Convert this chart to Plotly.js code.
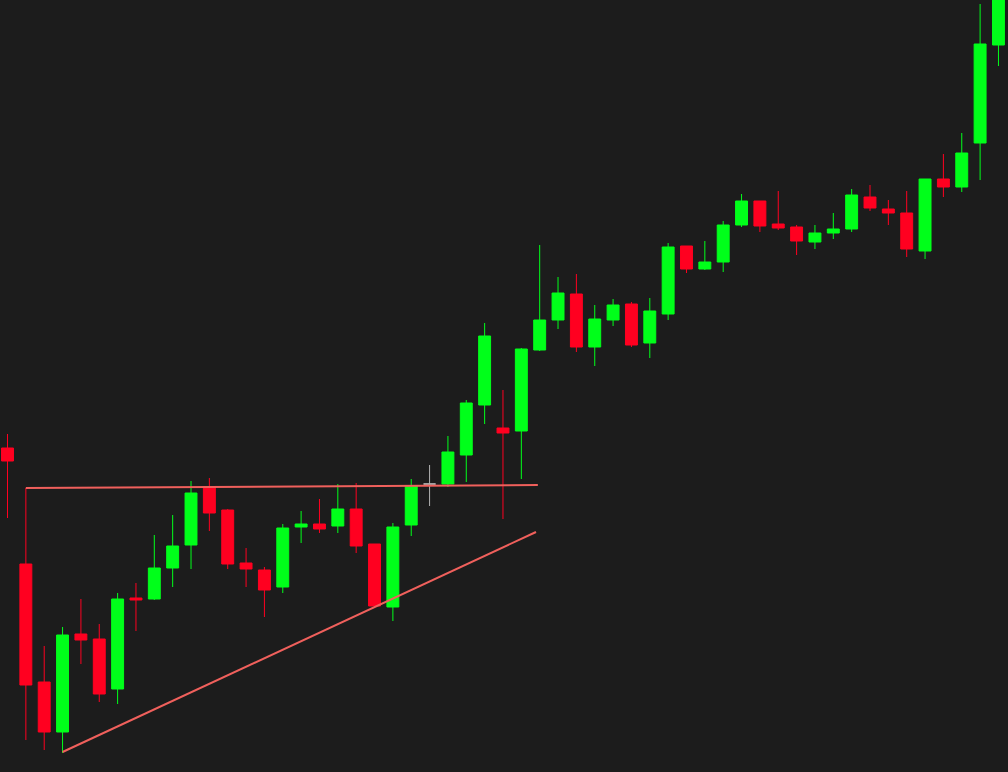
<!DOCTYPE html>
<html>
<head>
<meta charset="utf-8">
<script src="https://cdn.plot.ly/plotly-3.0.1.min.js"></script>
<style>
  html, body { margin: 0; padding: 0; background: #1c1c1c; }
  #chart { width: 1008px; height: 772px; }
</style>
</head>
<body>
<div id="chart"></div>
<script>
// Bar index (one per session)
const idx = [];
for (let i = 0; i < 55; i++) idx.push(i);

// OHLC values (arbitrary price units)
const open  = [324,208,90,40,138,133,83,174,173,204,227,285,262,209,202,185,245,248,246,263,228,165,247,288,288,317,367,344,341,422,452,478,425,452,468,429,458,526,503,510,547,571,548,545,530,539,543,575,563,559,521,593,585,629,727];
const high  = [338,284,126,145,173,148,179,189,237,257,291,294,263,224,205,248,261,273,288,289,228,249,293,307,336,372,449,382,424,527,495,498,467,473,470,474,529,526,531,551,578,571,581,547,547,559,583,587,572,581,593,618,639,768,810];
const low   = [254,32,22,19,108,70,68,141,172,185,203,241,203,185,155,179,229,239,239,219,164,151,236,266,285,290,348,253,293,421,443,420,406,446,425,414,452,499,502,500,545,540,542,517,523,533,540,561,547,515,513,575,580,592,706];
const close = [311,87,40,137,132,78,173,172,204,226,279,259,208,203,182,244,248,243,263,226,166,245,286,288,320,369,436,339,423,452,479,425,453,467,427,461,525,503,510,547,571,546,544,531,539,543,577,564,559,523,593,585,619,728,790];

// Doji bars (open == close) drawn in neutral grey
const dojiIdx = [23];

// Drawn trend lines: [bar index], [price]
const resistX = [1, 28.9];
const resistY = [284, 287];
const supportX = [3, 28.8];
const supportY = [20, 240];

const mainX = [], mO = [], mH = [], mL = [], mC = [];
const dX = [], dO = [], dH = [], dL = [], dC = [];
for (let i = 0; i < idx.length; i++) {
  if (dojiIdx.includes(idx[i])) {
    dX.push(idx[i]); dO.push(open[i]); dH.push(high[i]); dL.push(low[i]); dC.push(close[i]);
  } else {
    mainX.push(idx[i]); mO.push(open[i]); mH.push(high[i]); mL.push(low[i]); mC.push(close[i]);
  }
}

const GREEN = '#00ff1a';
const RED = '#ff0020';
const GREY = '#b4b4b4';
const LINE = '#f0605c';

const traces = [
  {
    type: 'scatter', mode: 'lines', x: resistX, y: resistY,
    line: { color: LINE, width: 2 }, hoverinfo: 'skip', showlegend: false
  },
  {
    type: 'scatter', mode: 'lines', x: supportX, y: supportY,
    line: { color: LINE, width: 2 }, hoverinfo: 'skip', showlegend: false
  },
  {
    type: 'candlestick', x: mainX, open: mO, high: mH, low: mL, close: mC,
    increasing: { line: { color: GREEN, width: 1 }, fillcolor: GREEN },
    decreasing: { line: { color: RED, width: 1 }, fillcolor: RED },
    whiskerwidth: 0, showlegend: false
  },
  {
    type: 'candlestick', x: dX, open: dO, high: dH, low: dL, close: dC,
    increasing: { line: { color: GREY, width: 1 }, fillcolor: GREY },
    decreasing: { line: { color: GREY, width: 1 }, fillcolor: GREY },
    whiskerwidth: 0, showlegend: false
  }
];

const layout = {
  width: 1008, height: 772,
  margin: { l: 0, r: 0, t: 0, b: 0, pad: 0 },
  paper_bgcolor: '#1c1c1c', plot_bgcolor: '#1c1c1c',
  showlegend: false,
  boxgap: 0.35, boxgroupgap: 0, boxmode: 'overlay',
  xaxis: {
    range: [-0.409, 54.52], visible: false, showgrid: false, zeroline: false,
    rangeslider: { visible: false }, fixedrange: true
  },
  yaxis: {
    range: [0, 772], visible: false, showgrid: false, zeroline: false, fixedrange: true
  }
};

Plotly.newPlot('chart', traces, layout, { displayModeBar: false, staticPlot: true });
</script>
</body>
</html>
